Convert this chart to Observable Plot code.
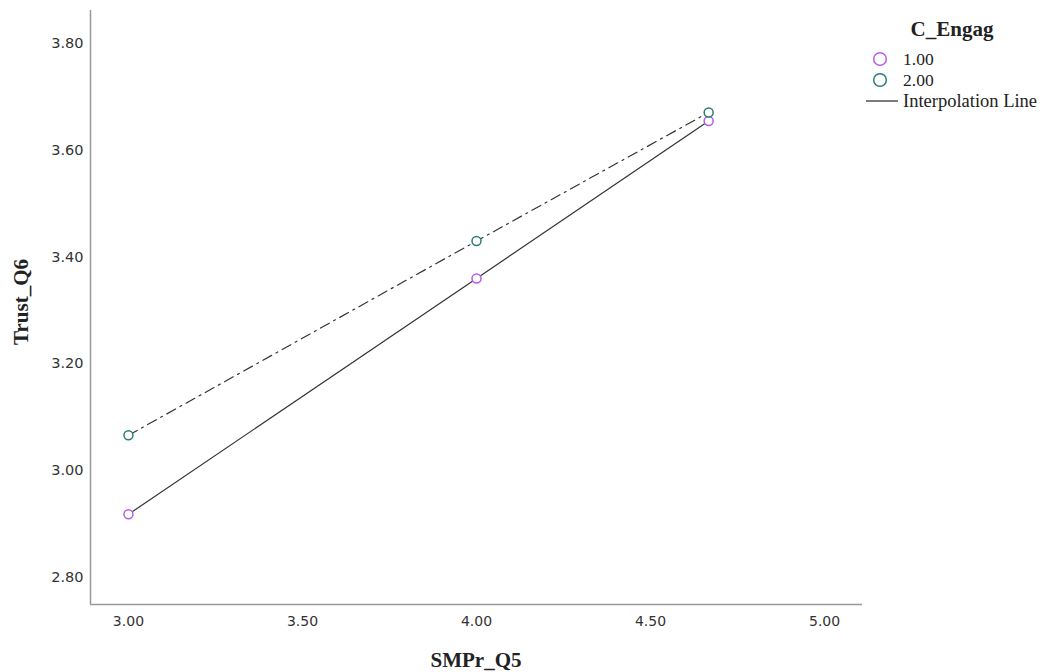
<!DOCTYPE html>
<html>
<head>
<meta charset="utf-8">
<script src="https://cdn.jsdelivr.net/npm/d3@7"></script>
<script src="https://cdn.jsdelivr.net/npm/@observablehq/plot@0.6"></script>
<style>
  html, body { margin: 0; padding: 0; background: #fff; }
  #wrap { position: relative; width: 1043px; height: 672px; }
  .ttl { position: absolute; font-family: "Liberation Serif", "Times New Roman", serif; font-weight: bold; font-size: 21px; color: #222; white-space: nowrap; line-height: 1; }
  .leg { position: absolute; font-family: "Liberation Serif", "Times New Roman", serif; font-size: 17.5px; color: #222; white-space: nowrap; line-height: 1; }
</style>
</head>
<body>
<div id="wrap"></div>
<script>
const xValues = [3.0, 4.0, 4.667];
const group1 = [2.918, 3.360, 3.655];   // C_Engag = 1.00
const group2 = [3.066, 3.430, 3.671];   // C_Engag = 2.00
const groupLabels = ["1.00", "2.00"];
const groupColors = ["#b65ce8", "#2b7d74"];
const xTicks = [3.0, 3.5, 4.0, 4.5, 5.0];
const yTicks = [2.8, 3.0, 3.2, 3.4, 3.6, 3.8];

const data = [
  ...xValues.map((x, i) => ({x, y: group1[i], g: groupLabels[0]})),
  ...xValues.map((x, i) => ({x, y: group2[i], g: groupLabels[1]}))
];
const xDom = [2.891, 5.109];
const yDom = [2.749, 3.862];

const chart = Plot.plot({
  width: 1043,
  height: 672,
  marginLeft: 90,
  marginRight: 181,
  marginTop: 10,
  marginBottom: 68,
  style: {fontFamily: "'DejaVu Sans', sans-serif", fontSize: "14px", color: "#333", background: "#fff"},
  x: {domain: xDom},
  y: {domain: yDom},
  marks: [
    Plot.axisX({ticks: xTicks, tickFormat: d => d.toFixed(2), tickSize: 0, tickPadding: 12, label: null, fill: "#333", fontSize: 14}),
    Plot.axisY({ticks: yTicks, tickFormat: d => d.toFixed(2), tickSize: 0, tickPadding: 7, label: null, fill: "#333", fontSize: 14.5}),
    Plot.ruleX([xDom[0]], {y1: yDom[0], y2: yDom[1], stroke: "#999", strokeWidth: 1.5}),
    Plot.ruleY([yDom[0]], {x1: xDom[0], x2: xDom[1], stroke: "#999", strokeWidth: 1.5}),
    Plot.line(data.filter(d => d.g === groupLabels[0]), {x: "x", y: "y", stroke: "#333", strokeWidth: 1.2}),
    Plot.line(data.filter(d => d.g === groupLabels[1]), {x: "x", y: "y", stroke: "#333", strokeWidth: 1.2, strokeDasharray: "10,5,2,5"}),
    Plot.dot(data, {x: "x", y: "y", r: 4.5, fill: "#fff", stroke: d => groupColors[groupLabels.indexOf(d.g)], strokeWidth: 1.5})
  ]
});

const wrap = document.getElementById("wrap");
wrap.appendChild(chart);

function addDiv(cls, text, css) {
  const d = document.createElement("div");
  d.className = cls;
  d.textContent = text;
  Object.assign(d.style, css);
  wrap.appendChild(d);
  return d;
}
// axis titles
addDiv("ttl", "SMPr_Q5", {left: "476px", top: "650px", transform: "translateX(-50%)"});
addDiv("ttl", "Trust_Q6", {left: "21px", top: "302px", transform: "translate(-50%,-50%) rotate(-90deg)"});

// legend
addDiv("ttl", "C_Engag", {left: "952px", top: "19px", transform: "translateX(-50%)"});
const ns = "http://www.w3.org/2000/svg";
const leg = document.createElementNS(ns, "svg");
leg.setAttribute("width", 60); leg.setAttribute("height", 80);
Object.assign(leg.style, {position: "absolute", left: "855px", top: "45px"});
groupColors.forEach((c, i) => {
  const ci = document.createElementNS(ns, "circle");
  ci.setAttribute("cx", 25); ci.setAttribute("cy", 14 + i * 21); ci.setAttribute("r", 6.3);
  ci.setAttribute("fill", "none"); ci.setAttribute("stroke", c); ci.setAttribute("stroke-width", 1.5);
  leg.appendChild(ci);
});
const ln = document.createElementNS(ns, "line");
ln.setAttribute("x1", 11); ln.setAttribute("x2", 43); ln.setAttribute("y1", 56); ln.setAttribute("y2", 56);
ln.setAttribute("stroke", "#333"); ln.setAttribute("stroke-width", 1.3);
leg.appendChild(ln);
wrap.appendChild(leg);
groupLabels.forEach((t, i) => addDiv("leg", t, {left: "903px", top: (51 + i * 21) + "px"}));
addDiv("leg", "Interpolation Line", {left: "903px", top: "92px", fontSize: "18.5px"});
</script>
</body>
</html>
